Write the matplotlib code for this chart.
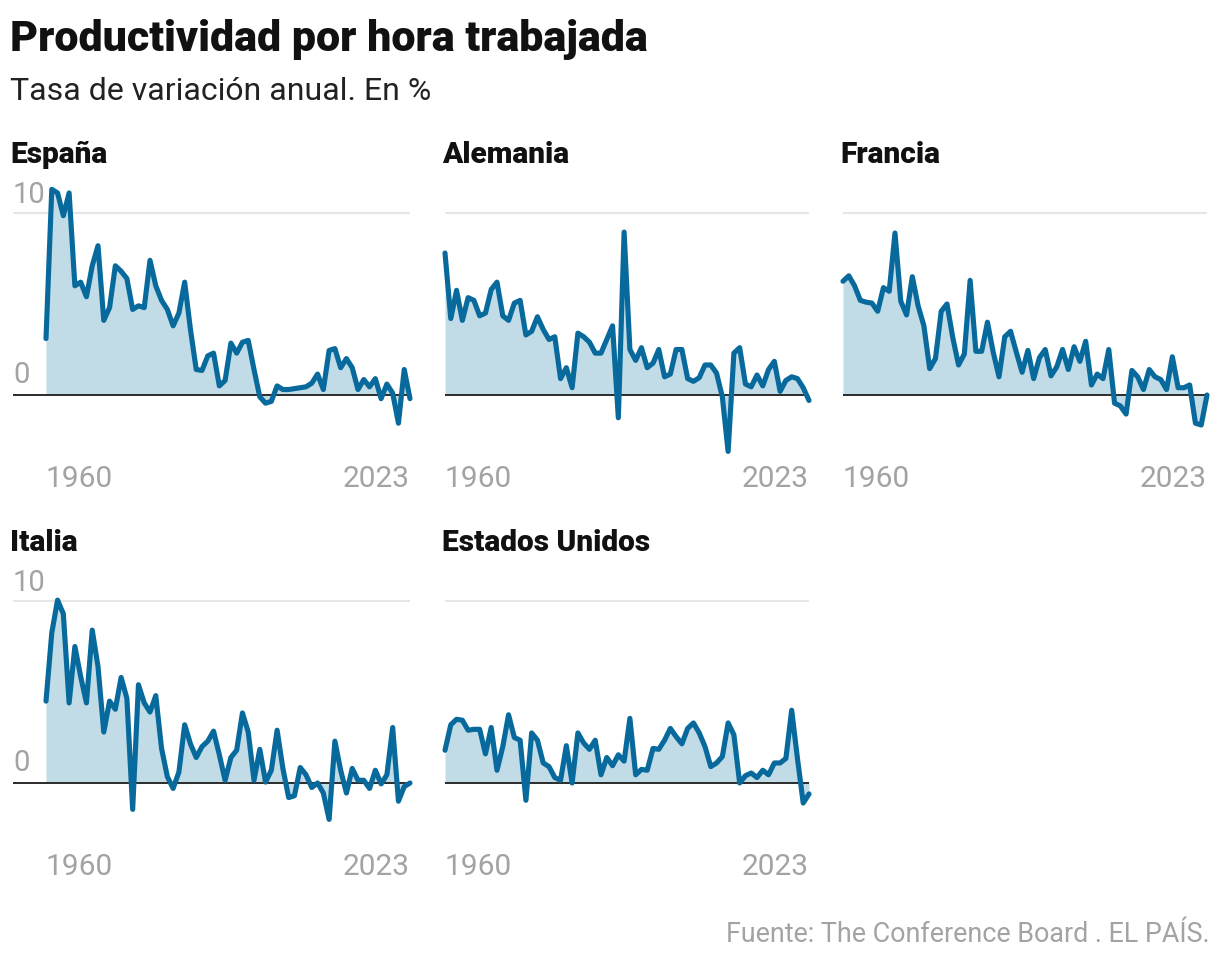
import numpy as np
import matplotlib
matplotlib.use('Agg')
import matplotlib.pyplot as plt

years = np.arange(1960, 2024)

espana = [3.1, 11.3, 11.1, 9.85, 11.1, 6.0, 6.2, 5.4, 7.1, 8.2,
          4.1, 4.8, 7.1, 6.8, 6.4, 4.7, 4.9, 4.8, 7.4, 6.0,
          5.2, 4.7, 3.8, 4.5, 6.2, 3.6, 1.4, 1.35, 2.15, 2.3,
          0.5, 0.8, 2.85, 2.3, 2.9, 3.0, 1.4, -0.1, -0.45, -0.35,
          0.5, 0.3, 0.3, 0.35, 0.4, 0.45, 0.65, 1.15, 0.3, 2.45,
          2.55, 1.5, 2.0, 1.5, 0.3, 0.85, 0.45, 0.9, -0.2, 0.6,
          0.1, -1.55, 1.4, -0.2]

alemania = [7.8, 4.2, 5.75, 4.1, 5.35, 5.2, 4.35, 4.5, 5.8, 6.2,
            4.35, 4.1, 5.05, 5.2, 3.3, 3.5, 4.3, 3.6, 3.05, 3.2,
            0.9, 1.5, 0.4, 3.4, 3.2, 2.9, 2.3, 2.3, 3.05, 3.8,
            -1.25, 8.95, 2.5, 1.9, 2.6, 1.5, 1.75, 2.5, 1.0, 1.15,
            2.5, 2.5, 0.9, 0.75, 0.95, 1.65, 1.65, 1.2, -0.1, -3.1,
            2.3, 2.6, 0.6, 0.45, 1.1, 0.5, 1.4, 1.85, 0.2, 0.8,
            1.0, 0.9, 0.4, -0.3]

francia = [6.25, 6.55, 6.0, 5.2, 5.1, 5.05, 4.6, 5.9, 5.7, 8.9,
           5.15, 4.4, 6.5, 4.9, 3.8, 1.45, 2.0, 4.6, 5.0, 3.15,
           1.65, 2.25, 6.3, 2.4, 2.4, 4.0, 2.35, 1.0, 3.2, 3.5,
           2.35, 1.25, 2.45, 0.9, 2.05, 2.5, 1.05, 1.55, 2.5, 1.4,
           2.65, 1.85, 2.95, 0.55, 1.15, 0.9, 2.5, -0.45, -0.6, -1.05,
           1.35, 1.0, 0.3, 1.4, 1.0, 0.85, 0.3, 2.1, 0.4, 0.4,
           0.55, -1.55, -1.65, 0.0]

italia = [4.5, 8.25, 10.05, 9.3, 4.4, 7.5, 5.85, 4.4, 8.4, 6.4,
          2.8, 4.5, 4.05, 5.8, 4.65, -1.45, 5.4, 4.4, 3.9, 4.8,
          1.9, 0.35, -0.3, 0.6, 3.2, 2.15, 1.4, 2.0, 2.3, 2.85,
          1.55, 0.15, 1.4, 1.8, 3.85, 2.8, 0.15, 1.85, 0.05, 0.7,
          2.9, 0.8, -0.8, -0.7, 0.85, 0.45, -0.25, 0.0, -0.55, -2.0,
          2.3, 0.7, -0.55, 0.8, 0.15, 0.15, -0.3, 0.7, -0.05, 0.45,
          3.05, -1.0, -0.2, 0.0]

eeuu = [1.8, 3.2, 3.5, 3.45, 2.9, 2.95, 2.95, 1.6, 3.05, 0.7,
        2.0, 3.75, 2.5, 2.35, -0.95, 2.75, 2.35, 1.1, 0.9, 0.3,
        0.15, 2.05, 0.0, 2.75, 2.2, 1.85, 2.35, 0.45, 1.4, 0.95,
        1.55, 1.2, 3.55, 0.45, 0.75, 0.7, 1.9, 1.85, 2.35, 3.0,
        2.55, 2.15, 3.0, 3.3, 2.75, 2.0, 0.9, 1.1, 1.45, 3.3,
        2.65, 0.0, 0.4, 0.55, 0.3, 0.7, 0.45, 1.1, 1.1, 1.35,
        4.0, 1.35, -1.1, -0.6]

paises = ['España', 'Alemania', 'Francia', 'Italia', 'Estados Unidos']
series = [espana, alemania, francia, italia, eeuu]

LINE = '#086a9c'
FILL = '#c1dbe7'
GREY = '#a3a3a3'
FONT = 'Roboto'

W, H = 1220, 964
fig = plt.figure(figsize=(W / 100, H / 100), dpi=100)
fig.patch.set_facecolor('white')

fig.text(10 / W, 1 - 40 / H, 'Productividad por hora trabajada', fontsize=31,
         fontweight='heavy', family=FONT, color='#111111', va='center', ha='left')
fig.text(10 / W, 1 - 92 / H, 'Tasa de variación anual. En %', fontsize=23,
         family=FONT, color='#222222', va='center', ha='left')
fig.text(1210 / W, 1 - 935 / H, 'Fuente: The Conference Board . EL PAÍS.', fontsize=19.4,
         family=FONT, color=GREY, va='center', ha='right')

px_year = 364 / 63
px_unit = 18.2
ymin, ymax = -4, 12
data_left = [46, 445, 843]
zero_y = [395, 783]
title_y = [155, 543]

for k, (name, vals) in enumerate(zip(paises, series)):
    row, col = divmod(k, 3)
    left_px = data_left[col]
    x0 = 1960
    if col == 0:
        extra = (left_px - 13) / px_year
        x0 = 1960 - extra
        left_px = 13
    right_px = data_left[col] + 364
    top_px = zero_y[row] - ymax * px_unit
    bot_px = zero_y[row] - ymin * px_unit
    ax = fig.add_axes([left_px / W, 1 - bot_px / H,
                       (right_px - left_px) / W, (bot_px - top_px) / H])
    ax.set_xlim(x0, 2023)
    ax.set_ylim(ymin, ymax)
    ax.axis('off')

    ax.axhline(10, color='#e6e6e6', lw=1.5, zorder=0)
    ax.fill_between(years, vals, 0, color=FILL, lw=0, zorder=1)
    ax.axhline(0, color='#2b2b2b', lw=1.4, zorder=2)
    ax.plot(years, vals, color=LINE, lw=3.7, solid_joinstyle='round',
            solid_capstyle='round', zorder=3, clip_on=False)

    if col == 0:
        ax.text(x0, 11.0, '10', fontsize=21, color=GREY, family=FONT,
                ha='left', va='center')
        ax.text(x0, 1.1, '0', fontsize=21, color=GREY, family=FONT,
                ha='left', va='center')

    ax.text(1960, -4.6, '1960', fontsize=21.5, color=GREY, family=FONT,
            ha='left', va='center', clip_on=False)
    ax.text(2023, -4.6, '2023', fontsize=21.5, color=GREY, family=FONT,
            ha='right', va='center', clip_on=False)

    tx = 10 if col == 0 else data_left[col] - 3
    fig.text(tx / W, 1 - title_y[row] / H, name, fontsize=21.5, fontweight='heavy',
             family=FONT, color='#111111', ha='left', va='center')

fig.savefig('out.png', dpi=100)
